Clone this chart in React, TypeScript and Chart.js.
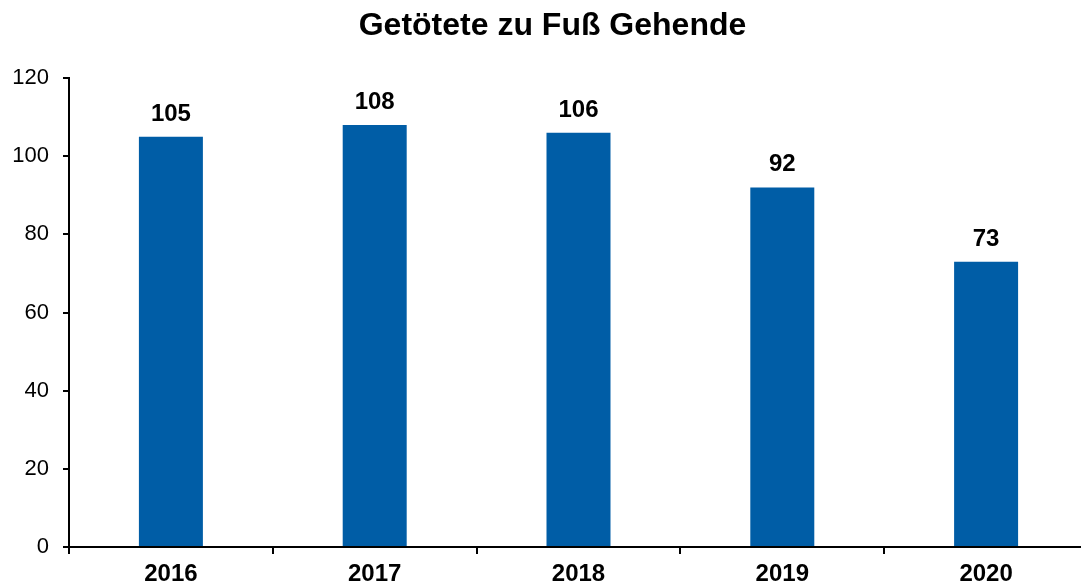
import React, { useEffect, useRef } from "react";
import { Chart, registerables } from "chart.js";

Chart.register(...registerables);

const TITLE = "Getötete zu Fuß Gehende";
const YEARS = ["2016", "2017", "2018", "2019", "2020"];
const KILLED = [105, 108, 106, 92, 73];
const Y_MIN = 0;
const Y_MAX = 120;
const Y_STEP = 20;

const FONT = "'Liberation Sans', Arial, sans-serif";
const BAR_COLOR = "#005DA6";

const titlePlugin = {
  id: "customTitle",
  afterDraw(chart: any) {
    const ctx = chart.ctx;
    ctx.save();
    ctx.font = `bold 32px ${FONT}`;
    ctx.fillStyle = "#000";
    ctx.textAlign = "center";
    ctx.textBaseline = "alphabetic";
    ctx.fillText(TITLE, 552.5, 35);
    ctx.restore();
  },
};

const valueLabelPlugin = {
  id: "valueLabels",
  afterDatasetsDraw(chart: any) {
    const ctx = chart.ctx;
    const meta = chart.getDatasetMeta(0);
    const data = chart.data.datasets[0].data;
    ctx.save();
    ctx.font = `bold 24px ${FONT}`;
    ctx.fillStyle = "#000";
    ctx.textAlign = "center";
    ctx.textBaseline = "alphabetic";
    meta.data.forEach((bar: any, i: number) => {
      ctx.fillText(String(data[i]), bar.x, bar.y - 16);
    });
    ctx.restore();
  },
};

export default function App() {
  const ref = useRef<HTMLCanvasElement>(null);

  useEffect(() => {
    if (!ref.current) return;
    const chart = new Chart(ref.current, {
      type: "bar",
      data: {
        labels: YEARS,
        datasets: [
          {
            data: KILLED,
            backgroundColor: BAR_COLOR,
            borderWidth: 0,
            categoryPercentage: 1,
            barPercentage: 0.314,
          },
        ],
      },
      options: {
        animation: false,
        responsive: false,
        maintainAspectRatio: false,
        layout: { padding: { top: 78, right: 7, left: 0, bottom: 0 } },
        plugins: {
          legend: { display: false },
          title: { display: false },
          tooltip: { enabled: false },
        },
        scales: {
          x: {
            offset: true,
            grid: {
              offset: true,
              display: true,
              drawOnChartArea: false,
              drawTicks: true,
              tickLength: 7,
              color: "#000",
              lineWidth: 2,
            },
            border: { display: true, color: "#000", width: 2 },
            ticks: {
              color: "#000",
              font: { family: FONT, size: 24, weight: "bold" },
              padding: 6,
              maxRotation: 0,
            },
            afterFit(scale: any) {
              scale.height = 41;
            },
          },
          y: {
            min: Y_MIN,
            max: Y_MAX,
            grid: {
              display: true,
              drawOnChartArea: false,
              drawTicks: true,
              tickLength: 6,
              color: "#000",
              lineWidth: 2,
            },
            border: { display: true, color: "#000", width: 2 },
            ticks: {
              stepSize: Y_STEP,
              color: "#000",
              font: { family: FONT, size: 22 },
              padding: 14,
            },
            afterFit(scale: any) {
              scale.width = 69;
            },
          },
        },
      },
      plugins: [titlePlugin, valueLabelPlugin],
    } as any);
    return () => chart.destroy();
  }, []);

  return (
    <div
      style={{
        position: "fixed",
        left: 0,
        top: 0,
        width: 1081,
        height: 588,
        overflow: "hidden",
        background: "#fff",
      }}
    >
      <canvas ref={ref} width={1095} height={588} style={{ display: "block" }} />
    </div>
  );
}
